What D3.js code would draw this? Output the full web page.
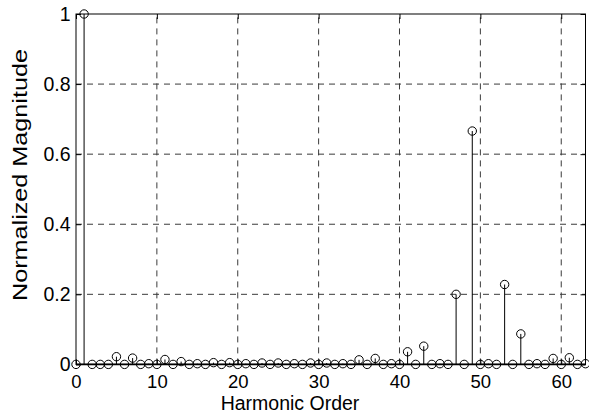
<!DOCTYPE html>
<html>
<head>
<meta charset="utf-8">
<script src="https://cdn.jsdelivr.net/npm/d3@7"></script>
<style>
  html, body { margin: 0; padding: 0; background: #fff; }
  svg { display: block; font-family: "Liberation Sans", Arial, Helvetica, sans-serif; }
</style>
</head>
<body>
<svg id="chart" width="589" height="412"></svg>
<script>
// Harmonic orders 0..63 and their normalized magnitudes
const harmonicOrders = d3.range(0, 64);
const magnitudes = [
  0, 1, 0, 0, 0, 0.022, 0, 0.018, 0, 0.002,
  0, 0.014, 0, 0.008, 0, 0.002, 0, 0.005, 0, 0.005,
  0, 0.002, 0, 0.004, 0, 0.004, 0, 0.002, 0, 0.004,
  0, 0.004, 0, 0.002, 0, 0.013, 0, 0.017, 0, 0.002,
  0, 0.036, 0, 0.052, 0, 0.002, 0, 0.2, 0, 0.666,
  0, 0.002, 0, 0.228, 0, 0.087, 0, 0.002, 0, 0.017,
  0, 0.019, 0, 0.002
];
const xTicks = [0, 10, 20, 30, 40, 50, 60];
const yTicks = [0, 0.2, 0.4, 0.6, 0.8, 1];
const xLabel = "Harmonic Order";
const yLabel = "Normalized Magnitude";

const svg = d3.select("#chart");
const plotLeft = 76, plotRight = 585.5, plotTop = 14, plotBottom = 364.4;

const x = d3.scaleLinear().domain([0, 63]).range([plotLeft, plotRight]);
const y = d3.scaleLinear().domain([0, 1]).range([plotBottom, plotTop]);

// dashed grid
const grid = svg.append("g")
  .attr("stroke", "#3a3a3a").attr("stroke-width", 1)
  .attr("stroke-dasharray", "6,5").attr("fill", "none");
grid.selectAll("line.vx").data(xTicks.filter(t => t > 0)).join("line")
  .attr("class", "vx")
  .attr("x1", d => x(d)).attr("x2", d => x(d))
  .attr("y1", plotBottom).attr("y2", plotTop);
grid.selectAll("line.hy").data(yTicks.filter(t => t > 0 && t < 1)).join("line")
  .attr("class", "hy")
  .attr("x1", plotLeft).attr("x2", plotRight)
  .attr("y1", d => y(d)).attr("y2", d => y(d));

// axes with inward ticks
const xAxis = svg.append("g").attr("transform", `translate(0,${plotBottom})`)
  .call(d3.axisBottom(x).tickValues(xTicks).tickSize(-5).tickFormat(d3.format("d")));
const xAxisTop = svg.append("g").attr("transform", `translate(0,${plotTop})`)
  .call(d3.axisTop(x).tickValues(xTicks).tickSize(-5).tickFormat(""));
const yAxis = svg.append("g").attr("transform", `translate(${plotLeft},0)`)
  .call(d3.axisLeft(y).tickValues(yTicks).tickSize(-5).tickFormat(d => d3.format("~g")(d)));
const yAxisRight = svg.append("g").attr("transform", `translate(${plotRight},0)`)
  .call(d3.axisRight(y).tickValues(yTicks).tickSize(-5).tickFormat(""));

[xAxis, xAxisTop, yAxis, yAxisRight].forEach(g => {
  g.select(".domain").remove();
  g.selectAll(".tick line").attr("stroke", "#000");
  g.selectAll(".tick text")
    .attr("fill", "#000")
    .style("font-family", "'Liberation Sans', Arial, Helvetica, sans-serif");
});
xAxis.selectAll(".tick text")
  .style("font-size", "18.5px")
  .attr("y", 388 - plotBottom).attr("dy", 0);
yAxis.selectAll(".tick text")
  .style("font-size", "19.5px")
  .attr("x", -5.5);

// box
svg.append("rect")
  .attr("x", plotLeft).attr("y", plotTop)
  .attr("width", plotRight - plotLeft).attr("height", plotBottom - plotTop)
  .attr("fill", "none").attr("stroke", "#000").attr("stroke-width", 1);

// stems
const pts = harmonicOrders.map((h, i) => ({ h, v: magnitudes[i] }));
svg.append("g").attr("stroke", "#000").attr("stroke-width", 1)
  .selectAll("line").data(pts.filter(d => d.v > 0)).join("line")
  .attr("x1", d => x(d.h)).attr("x2", d => x(d.h))
  .attr("y1", y(0)).attr("y2", d => y(d.v));

// baseline
svg.append("line")
  .attr("x1", plotLeft).attr("x2", plotRight)
  .attr("y1", y(0)).attr("y2", y(0))
  .attr("stroke", "#000").attr("stroke-width", 1.6);

// open circle markers
svg.append("g").attr("fill", "none").attr("stroke", "#000").attr("stroke-width", 1)
  .selectAll("circle").data(pts).join("circle")
  .attr("cx", d => x(d.h)).attr("cy", d => y(d.v)).attr("r", 4.2);

// axis titles
svg.append("text")
  .attr("x", 290).attr("y", 409.5)
  .attr("text-anchor", "middle")
  .style("font-size", "19.5px")
  .text(xLabel);

svg.append("text")
  .attr("transform", "translate(27,175) rotate(-90)")
  .attr("text-anchor", "middle")
  .attr("textLength", 252)
  .attr("lengthAdjust", "spacingAndGlyphs")
  .style("font-size", "19.5px")
  .text(yLabel);
</script>
</body>
</html>
